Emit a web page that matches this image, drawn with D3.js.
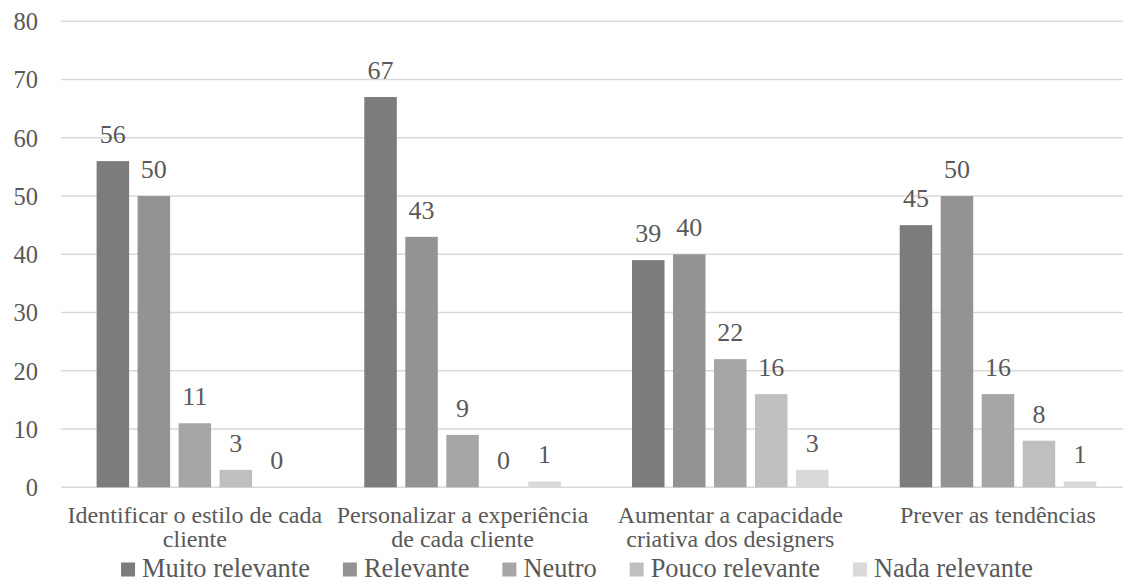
<!DOCTYPE html>
<html>
<head>
<meta charset="utf-8">
<script src="https://cdn.jsdelivr.net/npm/d3@7"></script>
</head>
<body style="margin:0;padding:0;background:#ffffff">
<svg id="chart" width="1123" height="580" style="display:block"></svg>
<script>
// Categories (x axis) and response series
const categories = [
  "Identificar o estilo de cada cliente",
  "Personalizar a experiência de cada cliente",
  "Aumentar a capacidade criativa dos designers",
  "Prever as tendências"
];
const seriesNames = ["Muito relevante", "Relevante", "Neutro", "Pouco relevante", "Nada relevante"];
const muitoRelevante = [56, 67, 39, 45];
const relevante      = [50, 43, 40, 50];
const neutro         = [11, 9, 22, 16];
const poucoRelevante = [3, 0, 16, 8];
const nadaRelevante  = [0, 1, 3, 1];
const yTicks = [0, 10, 20, 30, 40, 50, 60, 70, 80];

const seriesValues = [muitoRelevante, relevante, neutro, poucoRelevante, nadaRelevante];
const colors = ["#7c7c7c", "#939393", "#a6a6a6", "#bfbfbf", "#d9d9d9"];
const textColor = "#595959";
const FONT = '"Liberation Serif"';

const svg = d3.select("#chart");
const plot = { left: 61, right: 1131.8, top: 21.3, bottom: 487.3 };

const y = d3.scaleLinear().domain([0, 80]).range([plot.bottom, plot.top]);
const x0 = d3.scaleBand().domain(categories).range([plot.left, plot.right])
  .paddingInner(0.266).paddingOuter(0.133);
const x1 = d3.scaleBand().domain(seriesNames).range([0, x0.bandwidth()])
  .paddingInner(0.207).paddingOuter(0);
const color = d3.scaleOrdinal().domain(seriesNames).range(colors);

function styleText(sel, size) {
  sel.style("font-family", FONT).style("font-size", size + "px").attr("fill", textColor);
}

// Horizontal gridlines
svg.append("g").selectAll("line").data(yTicks).join("line")
  .attr("x1", plot.left).attr("x2", plot.right)
  .attr("y1", d => y(d)).attr("y2", d => y(d))
  .attr("stroke", "#d9d9d9").attr("stroke-width", 1.4);

// Y axis labels
const yAxis = d3.axisLeft(y).tickValues(yTicks).tickSize(0).tickPadding(0);
const gy = svg.append("g").attr("transform", "translate(38,0)").call(yAxis);
gy.select(".domain").remove();
gy.selectAll("text").call(styleText, 24.5).attr("dy", "0.34em");

// Bars and value labels
const rows = categories.map((c, i) => ({
  cat: c,
  vals: seriesNames.map((s, j) => ({ series: s, value: seriesValues[j][i] }))
}));

const groups = svg.append("g").selectAll("g").data(rows).join("g")
  .attr("transform", d => `translate(${x0(d.cat)},0)`);

groups.selectAll("rect").data(d => d.vals).join("rect")
  .attr("x", d => x1(d.series))
  .attr("width", x1.bandwidth())
  .attr("y", d => y(d.value))
  .attr("height", d => y(0) - y(d.value))
  .attr("fill", d => color(d.series));

groups.selectAll("text").data(d => d.vals).join("text")
  .attr("x", d => x1(d.series) + x1.bandwidth() / 2)
  .attr("y", d => y(d.value) - 18)
  .attr("text-anchor", "middle")
  .call(styleText, 26)
  .text(d => d.value);

// Category labels, wrapped to the band width
const xAxis = d3.axisBottom(x0).tickSize(0).tickPadding(0);
const gx = svg.append("g").attr("transform", `translate(0,${plot.bottom})`).call(xAxis);
gx.select(".domain").remove();
gx.selectAll("text")
  .call(styleText, 24)
  .attr("y", 0).attr("dy", null)
  .each(function (d) {
    const t = d3.select(this);
    const words = d.split(" ");
    const maxW = x0.step() - 6;
    t.text(null);
    const lines = [];
    let line = [];
    const probe = t.append("tspan");
    words.forEach(w => {
      line.push(w);
      probe.text(line.join(" "));
      if (probe.node().getComputedTextLength() > maxW && line.length > 1) {
        line.pop();
        lines.push(line.join(" "));
        line = [w];
      }
    });
    lines.push(line.join(" "));
    probe.remove();
    lines.forEach((l, i) => {
      t.append("tspan").attr("x", 0).attr("y", 35.7 + i * 24.5).text(l);
    });
  });

// Legend
const legend = svg.append("g");
const items = legend.selectAll("g").data(seriesNames).join("g");
items.append("rect")
  .attr("width", 14).attr("height", 14).attr("y", -14)
  .attr("fill", d => color(d));
items.append("text")
  .attr("x", 21).attr("y", 0)
  .call(styleText, 26.4)
  .text(d => d);
let cursor = 0;
const gap = 33;
items.each(function () {
  const g = d3.select(this);
  g.attr("transform", `translate(${cursor},0)`);
  cursor += 21 + g.select("text").node().getComputedTextLength() + gap;
});
const legendWidth = cursor - gap;
legend.attr("transform", `translate(${577 - legendWidth / 2},576.5)`);
</script>
</body>
</html>
